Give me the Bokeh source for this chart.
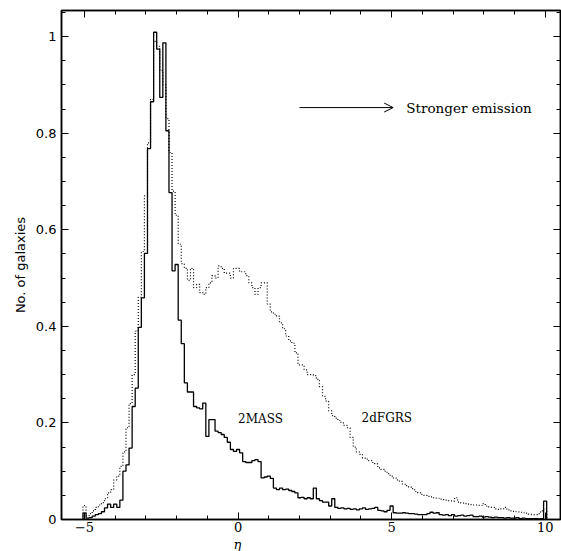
import numpy as np
from bokeh.plotting import figure
from bokeh.models import (Range1d, LinearAxis, FixedTicker, Label, Arrow,
                          OpenHead, CustomJSTickFormatter, Title)
from bokeh.embed import file_html
from bokeh.resources import INLINE

# ---------------- data ----------------
bin_start = -5.0      # centre of first eta bin
bin_width = 0.1

mass2 = [  # 2MASS, solid histogram
    0.013, 0.003, 0.004, 0.007, 0.010, 0.012, 0.016, 0.024, 0.032, 0.025,
    0.032, 0.025, 0.040, 0.100, 0.113, 0.148, 0.234, 0.272, 0.398, 0.459,
    0.551, 0.768, 0.865, 1.009, 0.974, 0.874, 0.987, 0.805, 0.677, 0.515,
    0.528, 0.413, 0.364, 0.283, 0.264, 0.264, 0.234, 0.231, 0.229, 0.241,
    0.172, 0.207, 0.207, 0.183, 0.180, 0.176, 0.170, 0.160, 0.145, 0.141,
    0.145, 0.138, 0.120, 0.118, 0.118, 0.122, 0.124, 0.120, 0.086, 0.088,
    0.090, 0.085, 0.065, 0.062, 0.065, 0.062, 0.063, 0.060, 0.058, 0.055,
    0.045, 0.046, 0.043, 0.045, 0.043, 0.065, 0.043, 0.039, 0.036, 0.036,
    0.028, 0.043, 0.025, 0.023, 0.024, 0.022, 0.023, 0.021, 0.022, 0.020,
    0.022, 0.024, 0.021, 0.022, 0.023, 0.025, 0.019, 0.018, 0.016, 0.019,
    0.028, 0.014, 0.013, 0.013, 0.014, 0.013, 0.012, 0.012, 0.011, 0.010,
    0.010, 0.010, 0.012, 0.015, 0.013, 0.014, 0.010, 0.009, 0.010, 0.008,
    0.010, 0.007, 0.008, 0.009, 0.007, 0.008, 0.009, 0.006, 0.006, 0.007,
    0.005, 0.006, 0.005, 0.004, 0.005, 0.004, 0.004, 0.003, 0.004, 0.003,
    0.003, 0.004, 0.002, 0.003, 0.002, 0.002, 0.002, 0.002, 0.001, 0.002,
    0.038,
]

dfgrs = [  # 2dFGRS, dotted histogram
    0.029, 0.008, 0.012, 0.018, 0.025, 0.030, 0.035, 0.043, 0.055, 0.062,
    0.082, 0.090, 0.110, 0.140, 0.190, 0.240, 0.300, 0.390, 0.460, 0.555,
    0.670, 0.780, 0.870, 0.990, 0.980, 0.930, 0.900, 0.830, 0.760, 0.680,
    0.630, 0.570, 0.530, 0.520, 0.495, 0.520, 0.480, 0.487, 0.470, 0.466,
    0.480, 0.490, 0.505, 0.500, 0.525, 0.520, 0.510, 0.510, 0.500, 0.520,
    0.520, 0.513, 0.513, 0.505, 0.490, 0.480, 0.466, 0.480, 0.490, 0.490,
    0.446, 0.430, 0.425, 0.421, 0.407, 0.395, 0.380, 0.370, 0.365, 0.345,
    0.320, 0.320, 0.310, 0.300, 0.300, 0.298, 0.290, 0.275, 0.255, 0.245,
    0.225, 0.215, 0.210, 0.205, 0.200, 0.195, 0.190, 0.170, 0.150, 0.140,
    0.135, 0.127, 0.125, 0.122, 0.118, 0.115, 0.107, 0.104, 0.100, 0.095,
    0.090, 0.086, 0.082, 0.079, 0.073, 0.070, 0.067, 0.064, 0.058, 0.055,
    0.052, 0.050, 0.048, 0.047, 0.045, 0.044, 0.042, 0.041, 0.040, 0.039,
    0.038, 0.045, 0.036, 0.034, 0.033, 0.032, 0.031, 0.030, 0.030, 0.029,
    0.033, 0.028, 0.026, 0.025, 0.022, 0.021, 0.022, 0.025, 0.020, 0.018,
    0.017, 0.016, 0.015, 0.014, 0.013, 0.011, 0.010, 0.010, 0.012, 0.018,
    0.022,
]

x_ticks = [-5, 0, 5, 10]
x_tick_labels = ["\u22125", "0", "5", "10"]
y_ticks = [0, 0.2, 0.4, 0.6, 0.8, 1.0]
y_tick_labels = ["0", "0.2", "0.4", "0.6", "0.8", "1"]

x_label = "\u03b7"
y_label = "No. of galaxies"
name_a = "2MASS"
name_b = "2dFGRS"
arrow_text = "Stronger emission"

# ---------------- build ----------------
n = len(mass2)
centers = bin_start + bin_width * np.arange(n)
edges = np.append(centers - bin_width / 2, centers[-1] + bin_width / 2)


def step_xy(vals):
    v = np.asarray(vals, dtype=float)
    xs = np.concatenate([[edges[0]], edges, [edges[-1]]])
    ys = np.concatenate([[0.0], v, [v[-1]], [0.0]])
    return xs, ys


p = figure(width=561, height=551, output_backend="svg", toolbar_location=None,
           x_range=Range1d(-5.75, 10.5), y_range=Range1d(0, 1.054),
           x_axis_type=None, y_axis_type=None,
           min_border_left=61, min_border_right=1,
           min_border_top=10, min_border_bottom=32)
p.outline_line_color = "black"
p.outline_line_width = 1.5
p.background_fill_color = "white"
p.border_fill_color = "white"


def pick_formatter(tvals, tlabels):
    return CustomJSTickFormatter(args=dict(tvals=tvals, tlabels=tlabels), code="""
        let best = 0, bd = Infinity;
        for (let i = 0; i < tvals.length; i++) {
            const d = Math.abs(tvals[i] - tick);
            if (d < bd) { bd = d; best = i; }
        }
        return tlabels[best];
    """)


def blank_formatter():
    return CustomJSTickFormatter(code="return '';")


def style_axis(ax):
    ax.major_tick_in = 7
    ax.major_tick_out = 0
    ax.minor_tick_in = 4
    ax.minor_tick_out = 0
    ax.axis_line_color = "black"
    ax.axis_line_width = 1.5
    ax.major_tick_line_color = "black"
    ax.minor_tick_line_color = "black"
    ax.major_tick_line_width = 1
    ax.minor_tick_line_width = 1
    ax.major_label_text_color = "black"


x_minor = list(range(-5, 11))
y_minor = [round(0.05 * i, 2) for i in range(0, 22)]

xb = LinearAxis(ticker=FixedTicker(ticks=x_ticks, minor_ticks=x_minor),
                formatter=pick_formatter(x_ticks, x_tick_labels))
style_axis(xb)
xb.major_label_standoff = 2
xb.major_label_text_font = "DejaVu Serif"
xb.major_label_text_font_size = "13px"
p.add_layout(xb, "below")

xt = LinearAxis(ticker=FixedTicker(ticks=x_ticks, minor_ticks=x_minor),
                formatter=blank_formatter())
style_axis(xt)
xt.major_label_standoff = 0
xt.major_label_text_font_size = "1px"
p.add_layout(xt, "above")

yl = LinearAxis(ticker=FixedTicker(ticks=y_ticks, minor_ticks=y_minor),
                formatter=pick_formatter(y_ticks, y_tick_labels),
                axis_label=y_label)
style_axis(yl)
yl.major_label_standoff = 5
yl.major_label_text_font = "DejaVu Sans"
yl.major_label_text_font_size = "13px"
yl.axis_label_text_font = "DejaVu Sans"
yl.axis_label_text_font_size = "13px"
yl.axis_label_text_font_style = "normal"
yl.axis_label_text_color = "black"
yl.axis_label_standoff = 5
p.add_layout(yl, "left")

yr = LinearAxis(ticker=FixedTicker(ticks=y_ticks, minor_ticks=y_minor),
                formatter=blank_formatter())
style_axis(yr)
yr.major_label_standoff = 0
yr.major_label_text_font_size = "1px"
p.add_layout(yr, "right")

# x-axis label sits under eta = 0 in the reference, not centred on the frame
p.add_layout(Title(text=x_label, align="left", offset=172, standoff=0,
                   text_font="DejaVu Serif", text_font_style="italic",
                   text_font_size="13px", text_color="black"), "below")

xs, ys = step_xy(dfgrs)
p.step(xs, ys, mode="after", line_color="black", line_width=1.2, line_dash="1 2")
xs, ys = step_xy(mass2)
p.step(xs, ys, mode="after", line_color="black", line_width=1.3)

p.add_layout(Label(x=0.0, y=0.209, text=name_a, text_font="DejaVu Serif",
                   text_font_size="12px", text_align="left", text_baseline="middle",
                   text_color="black"))
p.add_layout(Label(x=4.02, y=0.21, text=name_b, text_font="DejaVu Serif",
                   text_font_size="12px", text_align="left", text_baseline="middle",
                   text_color="black"))
p.add_layout(Label(x=5.48, y=0.853, text=arrow_text, text_font="DejaVu Serif",
                   text_font_size="13.5px", text_align="left", text_baseline="middle",
                   text_color="black"))
p.add_layout(Arrow(end=OpenHead(size=9, line_width=1, line_color="black"),
                   x_start=2.0, y_start=0.853, x_end=5.05, y_end=0.853,
                   line_width=1, line_color="black"))

open("out.html", "w").write(file_html(p, INLINE))
